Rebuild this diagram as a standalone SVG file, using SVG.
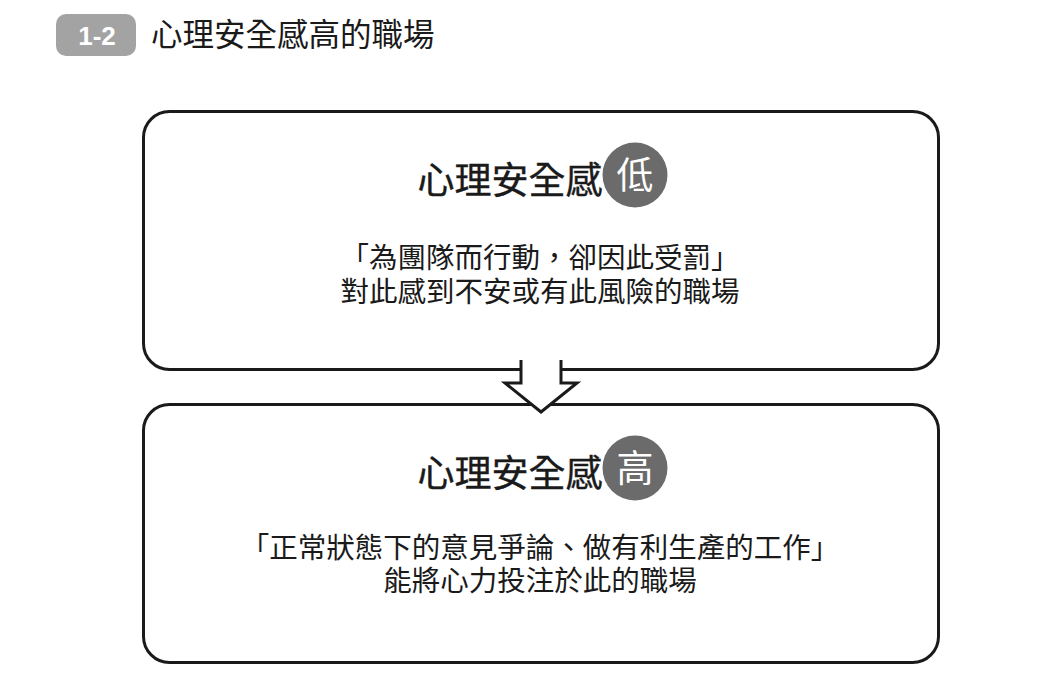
<svg xmlns="http://www.w3.org/2000/svg" width="1059" height="675" viewBox="0 0 1059 675">
<style>
.cjk{font-family:"Noto Sans CJK TC","Noto Sans CJK SC",sans-serif;fill:#1a1a1a}
.box{fill:#fff;stroke:#1a1a1a;stroke-width:3}
.h{font-size:37px;text-anchor:middle;stroke:#1a1a1a;stroke-width:0.4}
.b{font-size:28.5px;text-anchor:middle}
.badge{fill:#6b6b6b}
.bt{font-family:"Noto Sans CJK TC",sans-serif;font-size:37px;fill:#fff;text-anchor:middle}
</style>
<rect width="1059" height="675" fill="#fff"/>
<g id="header">
<rect x="56" y="14" width="80" height="42" rx="10" fill="#a3a3a3"/>
<text x="97" y="44.5" font-family="Liberation Sans,Arial,sans-serif" font-weight="bold" font-size="26" fill="#fff" text-anchor="middle">1-2</text>
<text x="151" y="46" class="cjk" font-size="31.5">心理安全感高的職場</text>
</g>
<g id="node-low">
<rect class="box" x="143.5" y="111.5" width="795" height="258" rx="26"/>
<text x="510" y="194" class="cjk h">心理安全感</text>
<circle class="badge" cx="635" cy="175" r="32.5"/>
<text x="635" y="188.5" class="bt">低</text>
<text x="540" y="268" class="cjk b">「為團隊而行動，卻因此受罰」</text>
<text x="540" y="302" class="cjk b">對此感到不安或有此風險的職場</text>
</g>
<g id="node-high">
<rect class="box" x="143.5" y="404.5" width="795" height="258" rx="26"/>
<text x="510" y="487" class="cjk h">心理安全感</text>
<circle class="badge" cx="635" cy="468" r="32.5"/>
<text x="635" y="481.5" class="bt">高</text>
<text x="540" y="558" class="cjk b">「正常狀態下的意見爭論、做有利生產的工作」</text>
<text x="540" y="591" class="cjk b">能將心力投注於此的職場</text>
</g>
<g id="connectors">
<polygon points="521,358 561,358 561,383 577,383 541,412 505,383 521,383" fill="#fff"/>
<polyline points="521,360 521,383 505,383 541,412 577,383 561,383 561,360" fill="none" stroke="#1a1a1a" stroke-width="3" stroke-linejoin="miter"/>
</g>
</svg>
